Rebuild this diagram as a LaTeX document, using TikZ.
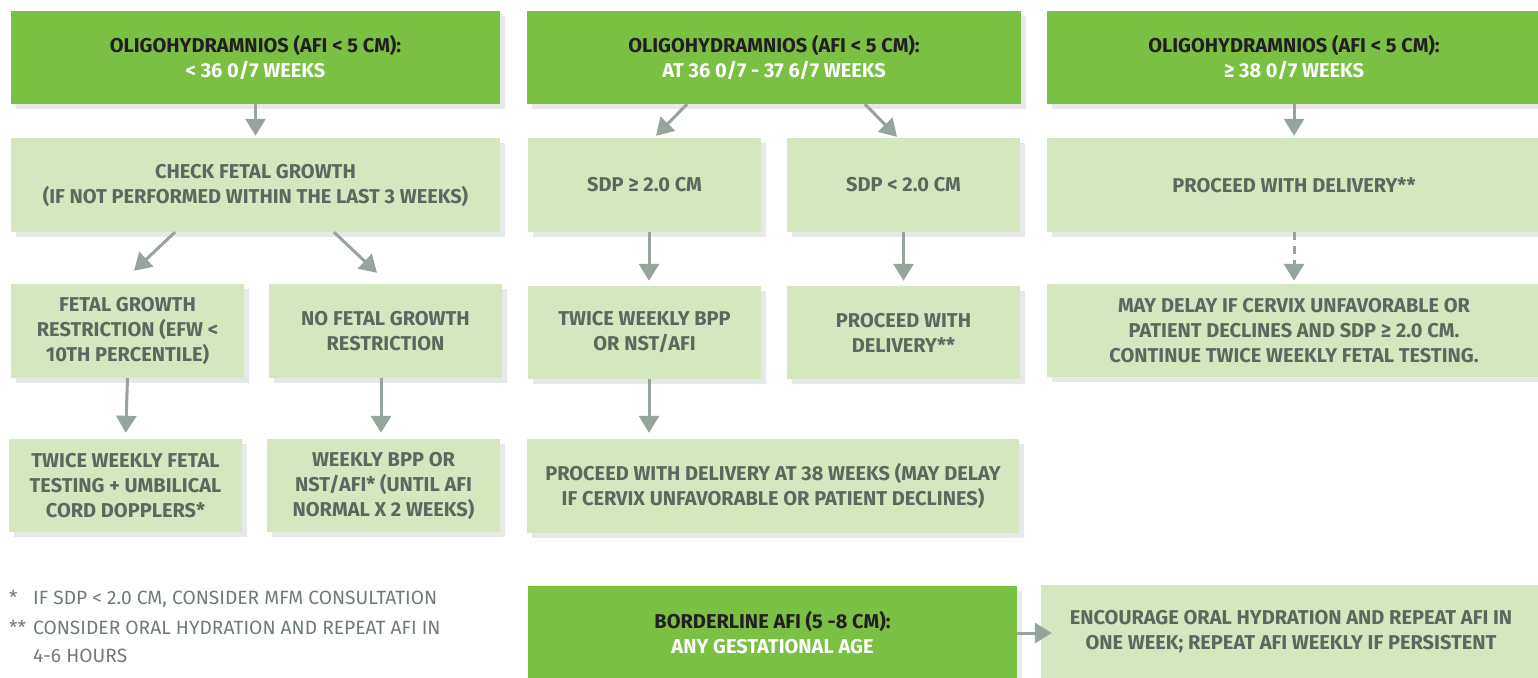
\documentclass[tikz,border=0pt]{standalone}
\usepackage{fontspec}
\setmainfont{Fira Sans}
\usepackage{xcolor}
\usetikzlibrary{calc, shadows, arrows.meta}

\definecolor{darkgreen}{HTML}{7AC143}
\definecolor{lightgreen}{HTML}{D4E7BF}
\definecolor{textgray}{HTML}{59695F}
\definecolor{arrowgray}{HTML}{95A59C}
\definecolor{shadowgray}{HTML}{E6E9E7}
\definecolor{notegray}{HTML}{6E7C75}
\definecolor{headblack}{HTML}{231F20}

\tikzset{
  box/.style={rectangle, fill=lightgreen, text=textgray, align=center, inner sep=0pt,
    font=\bfseries\fontsize{20}{25}\selectfont,
    drop shadow={shadow xshift=5pt, shadow yshift=-5pt, fill=shadowgray, opacity=1}},
  greenbox/.style={box, fill=darkgreen, text=white},
  flow/.style={draw=arrowgray, line width=3pt, -{Triangle[width=20pt, length=17pt]}},
  note/.style={anchor=west, inner sep=0pt, text=notegray, font=\fontsize{19.2}{22}\selectfont}
}

\begin{document}
\begin{tikzpicture}[x=1pt, y=-1pt]
\useasboundingbox (0,0) rectangle (1538,677);

% Top boxes
\node[greenbox, minimum width=489pt, minimum height=93pt] (Early) at (255.5,57.5)
  {{\color{headblack}OLIGOHYDRAMNIOS (AFI < 5 CM):}\\< 36 0/7 WEEKS};
\node[greenbox, minimum width=494pt, minimum height=93pt] (Late) at (774,57.5)
  {{\color{headblack}OLIGOHYDRAMNIOS (AFI < 5 CM):}\\AT 36 0/7 - 37 6/7 WEEKS};
\node[greenbox, minimum width=494pt, minimum height=93pt] (Term) at (1294,57.5)
  {{\color{headblack}OLIGOHYDRAMNIOS (AFI < 5 CM):}\\≥ 38 0/7 WEEKS};

% Second row
\node[box, minimum width=489pt, minimum height=94pt] (Check) at (255.5,185)
  {CHECK FETAL GROWTH\\(IF NOT PERFORMED WITHIN THE LAST 3 WEEKS)};
\node[box, minimum width=233pt, minimum height=94pt] (SDPhi) at (644.5,185) {SDP ≥ 2.0 CM};
\node[box, minimum width=233pt, minimum height=94pt] (SDPlo) at (903.5,185) {SDP < 2.0 CM};
\node[box, minimum width=494pt, minimum height=94pt] (TermDel) at (1294,185) {PROCEED WITH DELIVERY**};

% Third row
\node[box, minimum width=233pt, minimum height=94pt] (FGR) at (127.5,331)
  {FETAL GROWTH\\RESTRICTION (EFW <\\10TH PERCENTILE)};
\node[box, minimum width=233pt, minimum height=94pt] (NoFGR) at (385.5,331)
  {NO FETAL GROWTH\\RESTRICTION};
\node[box, minimum width=233pt, minimum height=93pt] (BPP) at (644.5,332.5)
  {TWICE WEEKLY BPP\\OR NST/AFI};
\node[box, minimum width=233pt, minimum height=93pt] (Del) at (903.5,332.5)
  {PROCEED WITH\\DELIVERY**};
\node[box, minimum width=494pt, minimum height=93pt] (Delay) at (1294,330.5)
  {MAY DELAY IF CERVIX UNFAVORABLE OR\\PATIENT DECLINES AND SDP ≥ 2.0 CM.\\CONTINUE TWICE WEEKLY FETAL TESTING.};

% Fourth row
\node[box, minimum width=233pt, minimum height=93pt] (FGRtest) at (125.5,485.5)
  {TWICE WEEKLY FETAL\\TESTING + UMBILICAL\\CORD DOPPLERS*};
\node[box, minimum width=233pt, minimum height=93pt] (NoFGRtest) at (383.5,485.5)
  {WEEKLY BPP OR\\NST/AFI* (UNTIL AFI\\NORMAL X 2 WEEKS)};
\node[box, minimum width=492pt, minimum height=94pt] (Del38) at (773,486)
  {PROCEED WITH DELIVERY AT 38 WEEKS (MAY DELAY\\IF CERVIX UNFAVORABLE OR PATIENT DECLINES)};

% Borderline row
\node[greenbox, minimum width=489pt, minimum height=94pt] (Border) at (772.5,633)
  {{\color{headblack}BORDERLINE AFI (5 -8 CM):}\\ANY GESTATIONAL AGE};
\node[box, minimum width=500pt, minimum height=94pt] (Hydrate) at (1291,632)
  {ENCOURAGE ORAL HYDRATION AND REPEAT AFI IN\\ONE WEEK; REPEAT AFI WEEKLY IF PERSISTENT};

% Arrows
\draw[flow, shorten >=2pt] (Early.south) -- (Check.north);
\draw[flow] ([xshift=-80.5pt]Check.south) -- ([xshift=6.5pt, yshift=13pt]FGR.north);
\draw[flow] ([xshift=78.5pt]Check.south) -- ([xshift=-8.5pt, yshift=11pt]NoFGR.north);
\draw[flow, shorten >=6pt] (FGR.south) -- (FGRtest.north);
\draw[flow, shorten >=6pt] ([xshift=-4.5pt]NoFGR.south) -- ([xshift=-2.5pt]NoFGRtest.north);
\draw[flow] ([xshift=-87pt]Late.south) -- ([xshift=11.5pt, yshift=2pt]SDPhi.north);
\draw[flow] ([xshift=91pt]Late.south) -- ([xshift=-6.5pt, yshift=1pt]SDPlo.north);
\draw[flow, shorten >=5pt] ([xshift=4.5pt]SDPhi.south) -- ([xshift=4.5pt]BPP.north);
\draw[flow, shorten >=5pt] (SDPlo.south) -- (Del.north);
\draw[flow, shorten >=6pt] ([xshift=4.5pt]BPP.south) -- ([xshift=-124pt]Del38.north);
\draw[flow, shorten >=2pt] (Term.south) -- (TermDel.north);
\draw[flow, shorten >=3pt, dash pattern=on 8pt off 6pt] (TermDel.south) -- (Delay.north);
\draw[flow, shorten >=-11pt] (Border.east) -- (Border.east -| Hydrate.west);

% Footnotes
\node[note] (N1) at (9,599) {\makebox[24pt][l]{*}IF SDP < 2.0 CM, CONSIDER MFM CONSULTATION};
\node[note] (N2) at (9,628) {\makebox[24pt][l]{**}CONSIDER ORAL HYDRATION AND REPEAT AFI IN};
\node[note] (N3) at (33,656) {4-6 HOURS};
\end{tikzpicture}
\end{document}
